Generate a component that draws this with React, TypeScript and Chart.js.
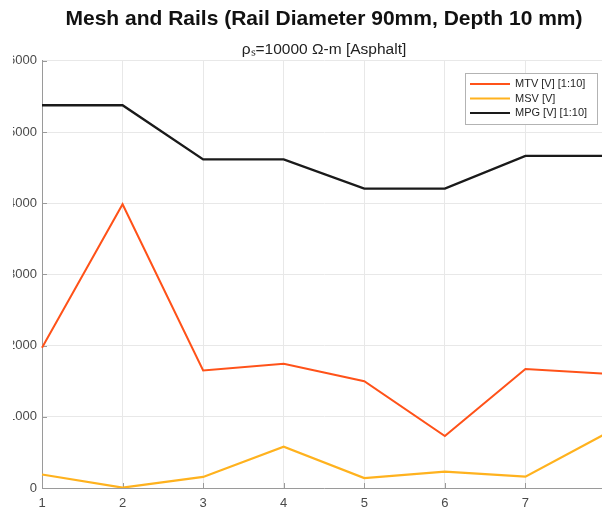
import React, { useEffect, useRef } from "react";
import { Chart, registerables } from "chart.js";

Chart.register(...registerables);

const categories = ["1", "2", "3", "4", "5", "6", "7", "8"];
const mtvValues = [1970, 3985, 1650, 1745, 1500, 730, 1670, 1605];
const msvValues = [190, 5, 155, 580, 140, 230, 160, 765];
const mpgValues = [5375, 5375, 4615, 4615, 4205, 4205, 4665, 4665];
const yTicks = [0, 1000, 2000, 3000, 4000, 5000, 6000];
const seriesLabels = ["MTV [V] [1:10]", "MSV [V]", "MPG [V] [1:10]"];
const seriesColors = ["#ff5219", "#ffb21e", "#1a1a1a"];
const titleText = "Mesh and Rails (Rail Diameter 90mm, Depth 10 mm)";
const subtitleText = "ρₛ=10000 Ω-m [Asphalt]";

const FONT = '"Liberation Sans", Arial, Helvetica, sans-serif';

const innerTicks = {
  id: "innerTicks",
  beforeDatasetsDraw(chart: any) {
    const { ctx, chartArea, scales } = chart;
    ctx.save();
    ctx.strokeStyle = "#9a9a9a";
    ctx.lineWidth = 1;
    scales.y.ticks.forEach((t: any) => {
      const y = Math.round(scales.y.getPixelForValue(t.value)) + 0.5;
      ctx.beginPath();
      ctx.moveTo(chartArea.left, y);
      ctx.lineTo(chartArea.left + 5, y);
      ctx.stroke();
    });
    categories.forEach((_, i) => {
      const x = Math.round(scales.x.getPixelForValue(i)) + 0.5;
      ctx.beginPath();
      ctx.moveTo(x, chartArea.bottom);
      ctx.lineTo(x, chartArea.bottom - 5);
      ctx.stroke();
    });
    ctx.restore();
  },
};

const legendBox = {
  id: "legendBox",
  afterDatasetsDraw(chart: any) {
    const { ctx, chartArea } = chart;
    ctx.save();
    ctx.font = `11px ${FONT}`;
    const dss = chart.data.datasets;
    const maxW = Math.max(...dss.map((d: any) => ctx.measureText(d.label).width));
    const w = Math.round(50 + maxW + 10);
    const h = 51;
    const right = Math.round(chartArea.right - 9);
    const left = right - w;
    const top = Math.round(chartArea.top + 12);
    ctx.fillStyle = "#ffffff";
    ctx.fillRect(left, top, w, h);
    ctx.strokeStyle = "#b3b3b3";
    ctx.lineWidth = 1;
    ctx.strokeRect(left + 0.5, top + 0.5, w, h);
    dss.forEach((ds: any, i: number) => {
      const y = top + 11 + i * 14.5;
      ctx.strokeStyle = ds.borderColor;
      ctx.lineWidth = 2;
      ctx.beginPath();
      ctx.moveTo(left + 5, y);
      ctx.lineTo(left + 45, y);
      ctx.stroke();
      ctx.fillStyle = "#262626";
      ctx.textBaseline = "middle";
      ctx.textAlign = "left";
      ctx.fillText(ds.label, left + 50, y);
    });
    ctx.restore();
  },
};

export default function App() {
  const canvasRef = useRef<HTMLCanvasElement | null>(null);

  useEffect(() => {
    if (!canvasRef.current) return;
    const chart = new Chart(canvasRef.current, {
      type: "line",
      data: {
        labels: categories,
        datasets: [
          { label: seriesLabels[0], data: mtvValues, borderColor: seriesColors[0], backgroundColor: seriesColors[0], borderWidth: 2, pointRadius: 0, tension: 0 },
          { label: seriesLabels[1], data: msvValues, borderColor: seriesColors[1], backgroundColor: seriesColors[1], borderWidth: 2.2, pointRadius: 0, tension: 0 },
          { label: seriesLabels[2], data: mpgValues, borderColor: seriesColors[2], backgroundColor: seriesColors[2], borderWidth: 2.4, pointRadius: 0, tension: 0 },
        ],
      },
      options: {
        animation: false,
        responsive: false,
        maintainAspectRatio: false,
        devicePixelRatio: 1,
        layout: { padding: { left: 0, right: 14, top: 0, bottom: 0 } },
        plugins: {
          legend: { display: false },
          tooltip: { enabled: false },
          title: {
            display: true,
            text: titleText,
            fullSize: false,
            color: "#111111",
            font: { family: FONT, size: 21, weight: "bold" },
            padding: { top: 7, bottom: 6 },
          },
          subtitle: {
            display: true,
            text: subtitleText,
            fullSize: false,
            color: "#222222",
            font: { family: FONT, size: 15.5, weight: "normal" },
            padding: { top: 2, bottom: 2 },
          },
        },
        scales: {
          x: {
            type: "category",
            offset: false,
            grid: { color: "#e8e8e8", drawTicks: false },
            border: { color: "#9a9a9a", width: 1 },
            ticks: { padding: 8, color: "#4a4a4a", font: { family: FONT, size: 13 }, maxRotation: 0, autoSkip: false },
            afterFit: (s: any) => { s.height = 22; },
          },
          y: {
            min: 0,
            max: 6000,
            grid: { color: "#e8e8e8", drawTicks: false },
            border: { color: "#9a9a9a", width: 1 },
            afterBuildTicks: (s: any) => { s.ticks = yTicks.map((v) => ({ value: v })); },
            ticks: { padding: 5, color: "#4a4a4a", font: { family: FONT, size: 13 }, callback: (v: any) => String(v) },
            afterFit: (s: any) => { s.width = 42; },
          },
        },
      },
      plugins: [innerTicks, legendBox],
    });
    return () => chart.destroy();
  }, []);

  return (
    <div style={{ position: "fixed", left: 0, top: 0, width: 602, height: 510, background: "#ffffff", overflow: "hidden" }}>
      <div style={{ position: "absolute", left: 13, top: 0, width: 589, height: 510, overflow: "hidden" }}>
        <canvas ref={canvasRef} width={620} height={510} style={{ position: "absolute", left: -13, top: 0, width: 620, height: 510 }} />
      </div>
    </div>
  );
}
